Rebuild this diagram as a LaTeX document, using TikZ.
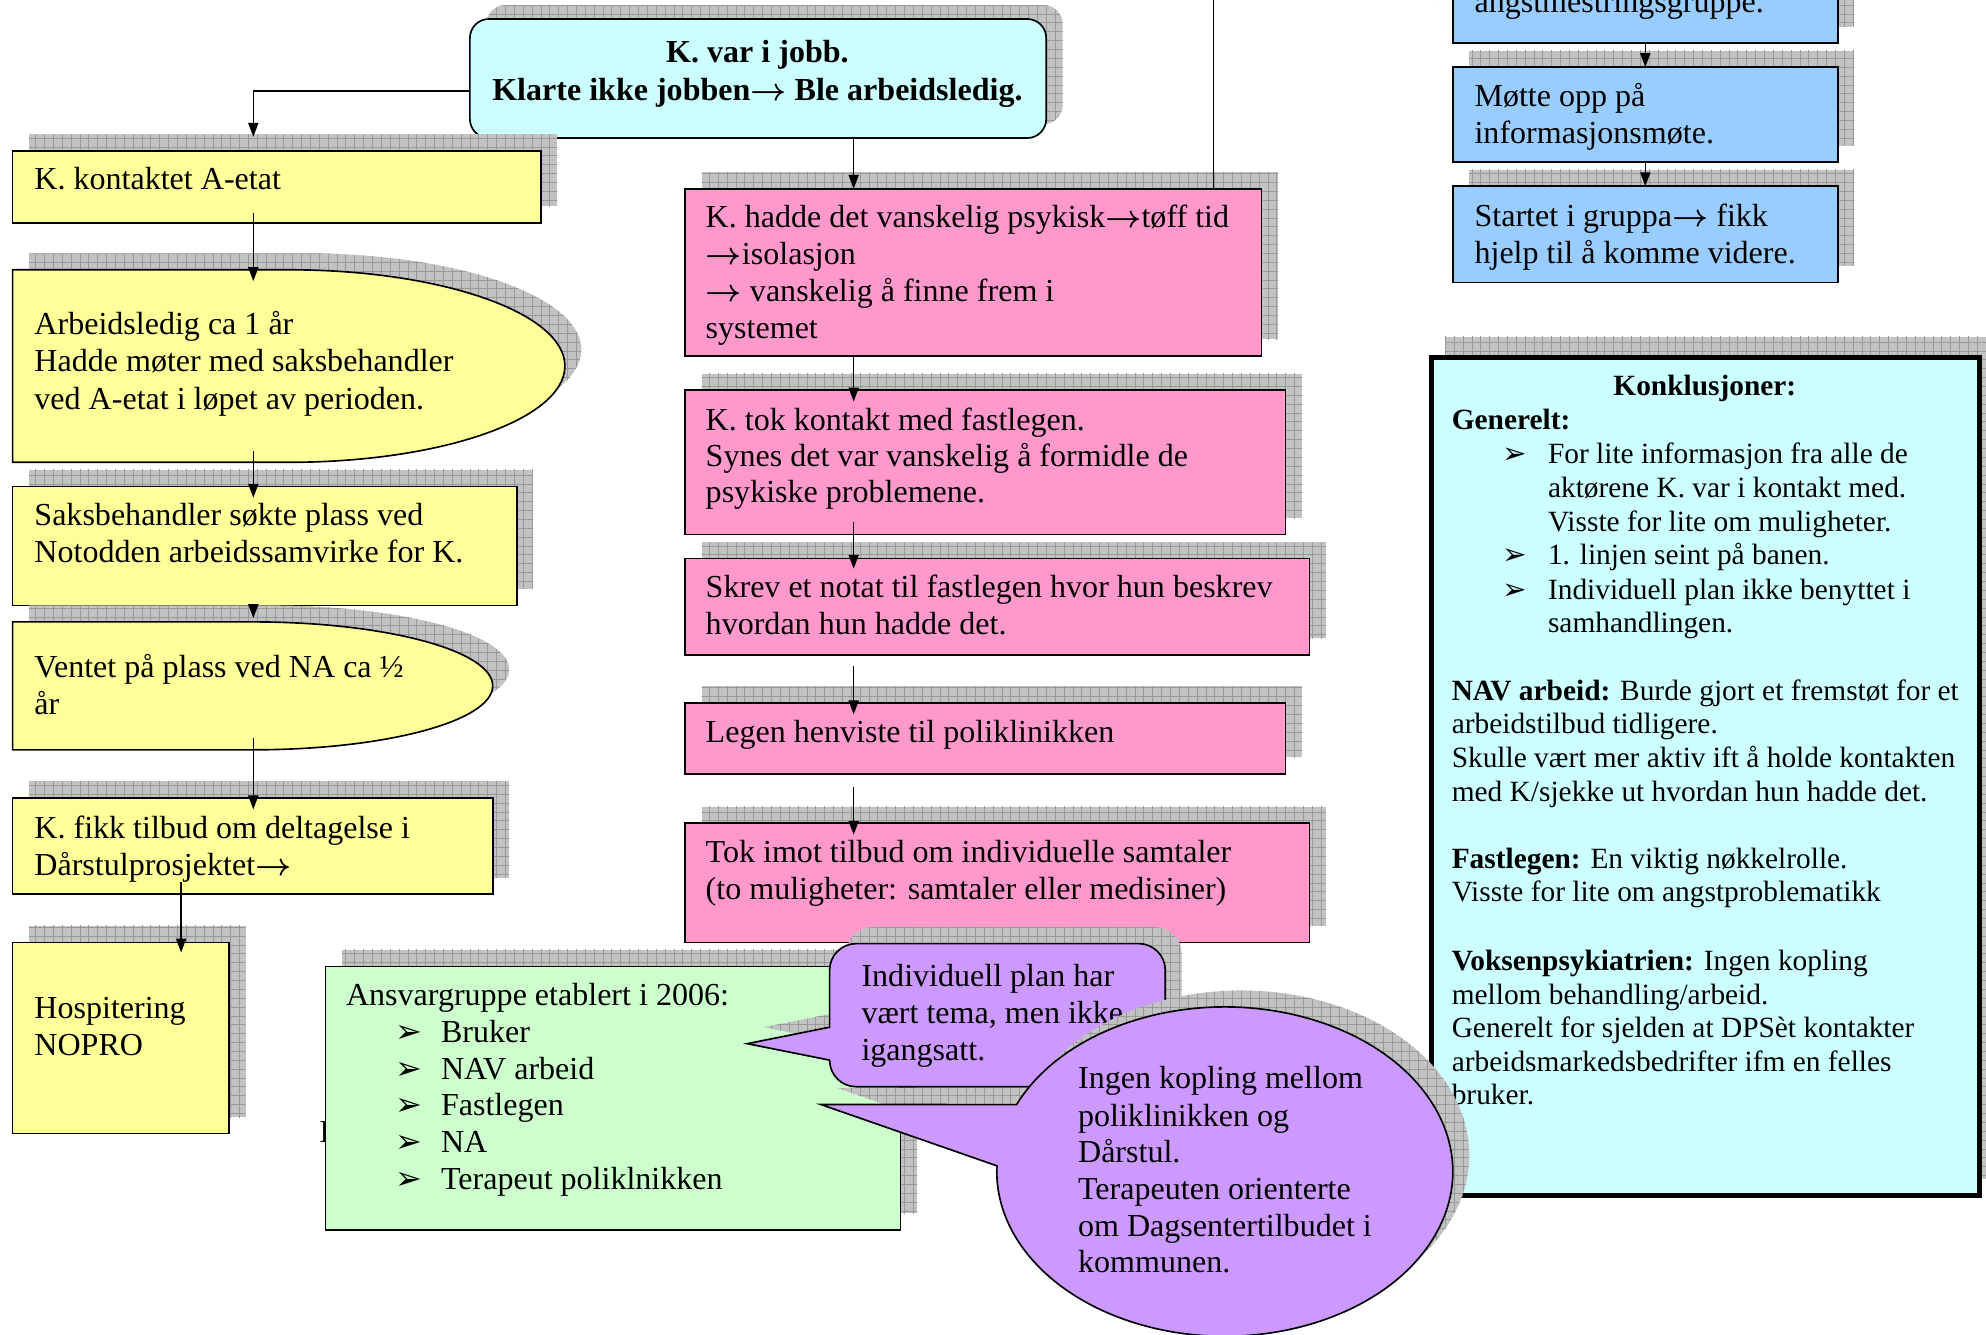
\documentclass[tikz,border=0pt]{standalone}
\usepackage{fontspec}
\setmainfont{Liberation Serif}
\newfontfamily\symf{DejaVu Sans}
\usetikzlibrary{arrows.meta,patterns.meta,calc}
\definecolor{cyanbox}{HTML}{CCFFFF}
\definecolor{yellowbox}{HTML}{FFFF99}
\definecolor{pinkbox}{HTML}{FF99CC}
\definecolor{bluebox}{HTML}{99CCFF}
\definecolor{greenbox}{HTML}{CCFFCC}
\definecolor{purplebox}{HTML}{CC99FF}
\definecolor{shgray}{HTML}{C2C2C2}
\definecolor{shline}{HTML}{989898}
\newcounter{tlc}
\newcommand\fa{\fontsize{25.3}{29}\selectfont}
\newcommand\fb{\fontsize{23.2}{26.6}\selectfont}
\newcommand\rarr{\mbox{\boldmath$\rightarrow$}}
\newcommand\blt{{\symf ➢}}
\newcommand\tline[4][]{\stepcounter{tlc}\node[txt,#1] (t\arabic{tlc}) at (#2,#3) {#4};}
% name, x1, y1, x2, y2, fill
\newcommand\rbox[6]{%
  \path[shadow] (#2+13,#3-13) rectangle (#4+13,#5-13);
  \node[box,fill=#6,minimum width={#4-#2},minimum height={#5-#3},anchor=north west] (#1) at (#2,#3) {};}
% delay shape: name, x1, y1, x2, y2, fill
\newcommand\dbox[6]{%
  \path[shadow] (#2+13,#3-13) -- ({(#2+#4)/2+13},#3-13) arc[start angle=-90,end angle=90,x radius={(#4-#2)/2},y radius={(#5-#3)/2}] -- (#2+13,#5-13) -- cycle;
  \path[box,fill=#6] (#2,#3) -- ({(#2+#4)/2},#3) arc[start angle=-90,end angle=90,x radius={(#4-#2)/2},y radius={(#5-#3)/2}] -- (#2,#5) -- cycle;
  \node[inner sep=0pt,outer sep=0pt,minimum width={#4-#2},minimum height={#5-#3},anchor=north west] (#1) at (#2,#3) {};}
\begin{document}
\begin{tikzpicture}[x=1pt,y=-1pt,
  box/.style={draw=black,line width=1.3pt,inner sep=0pt,outer sep=0pt},
  shadow/.style={fill=shgray,postaction={pattern={Hatch[angle=0,distance=7pt,line width=0.45pt]},pattern color=shline}},
  arr/.style={line width=1.2pt,-{Triangle[length=11pt,width=8pt]}},
  txt/.style={anchor=base west,inner sep=0pt,font=\fa}]
\clip (0,0) rectangle (1568,1054);
\useasboundingbox (0,0) rectangle (1568,1054);

% ---------- top box
\path[shadow,rounded corners=15] (384,4) rectangle (839,98);
\node[box,fill=cyanbox,rounded corners=15,minimum width=455,minimum height=94,anchor=north west] (top) at (371,15) {};

% ---------- left column
\rbox{A}{10}{119}{427}{176}{yellowbox}
\dbox{B}{10}{213}{446}{365}{yellowbox}
\rbox{C}{10}{384}{408}{478}{yellowbox}
\dbox{D}{10}{491}{389}{592}{yellowbox}
\rbox{E}{10}{630}{389}{706}{yellowbox}
\rbox{F}{10}{744}{181}{895}{yellowbox}

% ---------- middle column
\rbox{P1}{541}{149}{996}{281}{pinkbox}
\rbox{P2}{541}{308}{1015}{422}{pinkbox}
\rbox{P3}{541}{441}{1034}{517}{pinkbox}
\rbox{P4}{541}{555}{1015}{611}{pinkbox}
\rbox{P5}{541}{650}{1034}{744}{pinkbox}

% ---------- right column
\rbox{B0}{1147}{-60}{1451}{34}{bluebox}
\rbox{B1}{1147}{53}{1451}{128}{bluebox}
\rbox{B2}{1147}{147}{1451}{223}{bluebox}

% ---------- conclusions
\path[shadow] (1141,266) rectangle (1580,931);
\node[box,line width=4pt,fill=cyanbox,minimum width=433,minimum height=662,anchor=north west] (konk) at (1130,282) {};

% ---------- connectors
\coordinate (cL) at (200,0);
\coordinate (cE) at (143,0);
\coordinate (cP) at (674,0);
\coordinate (cV) at (958,0);
\coordinate (cB) at (1299,0);
\draw[arr,shorten >=11pt] ([yshift=-10pt]top.west) -| (A.north -| cL);
\draw[arr,shorten <=-8pt,shorten >=-9pt] (A.south -| cL) -- (B.north -| cL);
\draw[arr,shorten <=-9pt,shorten >=-9pt] (B.south -| cL) -- (C.north -| cL);
\draw[arr,shorten <=-9pt,shorten >=3pt] (C.south -| cL) -- (D.north -| cL);
\draw[arr,shorten <=-9pt,shorten >=-9pt] (D.south -| cL) -- (E.north -| cL);
\draw[arr,shorten <=-10pt,shorten >=-8pt] (E.south -| cE) -- (F.north -| cE);
\draw[arr] (top.south -| cP) -- (P1.north -| cP);
\draw[arr,shorten >=-9pt] (P1.south -| cP) -- (P2.north -| cP);
\draw[arr,shorten <=-10pt,shorten >=-8pt] (P2.south -| cP) -- (P3.north -| cP);
\draw[arr,shorten <=9pt,shorten >=-9pt] (P3.south -| cP) -- (P4.north -| cP);
\draw[arr,shorten <=10pt,shorten >=-9pt] (P4.south -| cP) -- (P5.north -| cP);
\draw[arr] (P1.north -| cV) |- ([yshift=-9pt]B0.west);
\draw[arr] (B0.south -| cB) -- (B1.north -| cB);
\draw[arr] (B1.south -| cB) -- (B2.north -| cB);

% ---------- texts
\tline[anchor=base,font=\fa\bfseries]{598}{49}{K. var i jobb.}
\tline[anchor=base,font=\fa\bfseries]{598}{79}{Klarte ikke jobben\rarr{} Ble arbeidsledig.}

\tline{27}{150}{K. kontaktet A-etat}
\tline{27}{264}{Arbeidsledig ca 1 år}
\tline{27}{293}{Hadde møter med saksbehandler}
\tline{27}{323}{ved A-etat i løpet av perioden.}
\tline{27}{415}{Saksbehandler søkte plass ved}
\tline{27}{444}{Notodden arbeidssamvirke for K.}
\tline{27}{535}{Ventet på plass ved NA ca ½}
\tline{27}{564}{år}
\tline{27}{662}{K. fikk tilbud om deltagelse i}
\tline{27}{691}{Dårstulprosjektet\rarr}
\tline{27}{804}{Hospitering}
\tline{27}{833}{NOPRO}

\tline{557}{180}{K. hadde det vanskelig psykisk\rarr tøff tid}
\tline{557}{209}{\rarr isolasjon}
\tline{557}{238}{\rarr{} vanskelig å finne frem i}
\tline{557}{267}{systemet}
\tline{557}{340}{K. tok kontakt med fastlegen.}
\tline{557}{368}{Synes det var vanskelig å formidle de}
\tline{557}{397}{psykiske problemene.}
\tline{557}{472}{Skrev et notat til fastlegen hvor hun beskrev}
\tline{557}{501}{hvordan hun hadde det.}
\tline{557}{586}{Legen henviste til poliklinikken}
\tline{557}{681}{Tok imot tilbud om individuelle samtaler}
\tline{557}{710}{(to muligheter: samtaler eller medisiner)}

\tline{1164}{10}{angstmestringsgruppe.}
\tline{1164}{84}{Møtte opp på}
\tline{1164}{113}{informasjonsmøte.}
\tline{1164}{179}{Startet i gruppa\rarr{} fikk}
\tline{1164}{208}{hjelp til å komme videre.}

\tline[anchor=base,font=\fb\bfseries]{1346}{312}{Konklusjoner:}
\tline[font=\fb\bfseries]{1146}{339}{Generelt:}
\tline[font=\fb]{1186}{366}{\blt}
\tline[font=\fb]{1222}{366}{For lite informasjon fra alle de}
\tline[font=\fb]{1222}{393}{aktørene K. var i kontakt med.}
\tline[font=\fb]{1222}{420}{Visste for lite om muligheter.}
\tline[font=\fb]{1186}{446}{\blt}
\tline[font=\fb]{1222}{446}{1. linjen seint på banen.}
\tline[font=\fb]{1186}{473}{\blt}
\tline[font=\fb]{1222}{473}{Individuell plan ikke benyttet i}
\tline[font=\fb]{1222}{499}{samhandlingen.}
\tline[font=\fb]{1146}{553}{\textbf{NAV arbeid:} Burde gjort et fremstøt for et}
\tline[font=\fb]{1146}{579}{arbeidstilbud tidligere.}
\tline[font=\fb]{1146}{606}{Skulle vært mer aktiv ift å holde kontakten}
\tline[font=\fb]{1146}{633}{med K/sjekke ut hvordan hun hadde det.}
\tline[font=\fb]{1146}{686}{\textbf{Fastlegen:} En viktig nøkkelrolle.}
\tline[font=\fb]{1146}{712}{Visste for lite om angstproblematikk}
\tline[font=\fb]{1146}{766}{\textbf{Voksenpsykiatrien:} Ingen kopling}
\tline[font=\fb]{1146}{793}{mellom behandling/arbeid.}
\tline[font=\fb]{1146}{819}{Generelt for sjelden at DPSèt kontakter}
\tline[font=\fb]{1146}{846}{arbeidsmarkedsbedrifter ifm en felles}
\tline[font=\fb]{1146}{872}{bruker.}

% ---------- green box
\tline{252}{902}{I}
\rbox{G}{257}{763}{711}{971}{greenbox}
\tline{273}{794}{Ansvargruppe etablert i 2006:}
\tline{312}{823}{\blt}\tline{348}{823}{Bruker}
\tline{312}{852}{\blt}\tline{348}{852}{NAV arbeid}
\tline{312}{881}{\blt}\tline{348}{881}{Fastlegen}
\tline{312}{910}{\blt}\tline{348}{910}{NA}
\tline{312}{939}{\blt}\tline{348}{939}{Terapeut poliklnikken}

% ---------- callout 1
\path[shadow] (603,811) -- (668,798) -- (668,753) arc[start angle=180,end angle=270,radius=21] -- (912,732) arc[start angle=270,end angle=360,radius=21] -- (933,824) arc[start angle=0,end angle=90,radius=21] -- (689,845) arc[start angle=90,end angle=180,radius=21] -- cycle;
\path[box,fill=purplebox] (590,824) -- (655,811) -- (655,766) arc[start angle=180,end angle=270,radius=21] -- (899,745) arc[start angle=270,end angle=360,radius=21] -- (920,837) arc[start angle=0,end angle=90,radius=21] -- (676,858) arc[start angle=90,end angle=180,radius=21] -- cycle;
\tline{680}{779}{Individuell plan har}
\tline{680}{808}{vært tema, men ikke}
\tline{680}{837}{igangsatt.}

% ---------- callout 2
\coordinate (c2) at (967,925);
\coordinate (c2s) at (980,912);
\path[shadow] ($(c2s)+(182:180 and 130)$) -- (661,859) -- ($(c2s)+(204:180 and 130)$) arc[start angle=204,end angle=542,x radius=180,y radius=130] -- cycle;
\path[box,fill=purplebox] ($(c2)+(182:180 and 130)$) -- (648,872) -- ($(c2)+(204:180 and 130)$) arc[start angle=204,end angle=542,x radius=180,y radius=130] -- cycle;
\tline{851}{859}{Ingen kopling mellom}
\tline{851}{889}{poliklinikken og}
\tline{851}{918}{Dårstul.}
\tline{851}{947}{Terapeuten orienterte}
\tline{851}{976}{om Dagsentertilbudet i}
\tline{851}{1005}{kommunen.}
\end{tikzpicture}
\end{document}
